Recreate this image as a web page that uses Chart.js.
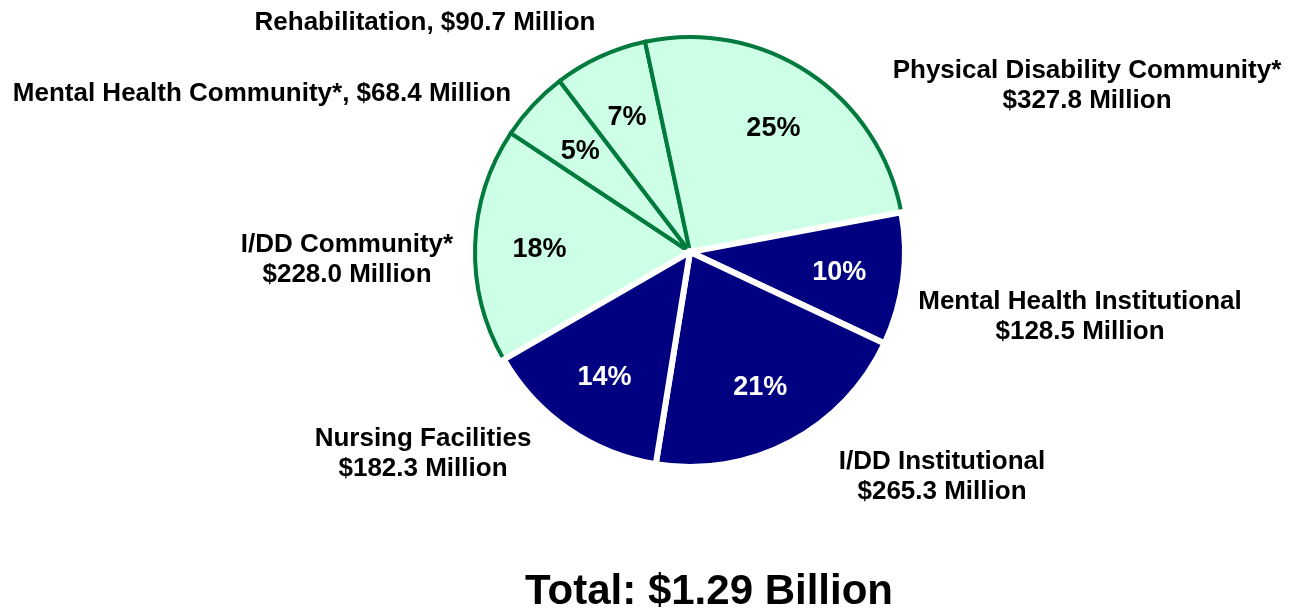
<!DOCTYPE html>
<html>
<head>
<meta charset="utf-8">
<script src="https://cdn.jsdelivr.net/npm/chart.js@4"></script>
<style>
  html, body { margin: 0; padding: 0; background: #fff; }
</style>
</head>
<body>
<canvas id="pie-chart" width="1292" height="612"></canvas>
<script>
// slices listed clockwise, starting at the I/DD Community slice (lower left)
const categories = ["I/DD Community*", "Mental Health Community*", "Rehabilitation",
  "Physical Disability Community*", "Mental Health Institutional", "I/DD Institutional", "Nursing Facilities"];
const amounts = [228.0, 68.4, 90.7, 327.8, 128.5, 265.3, 182.3]; // $ million
const isCommunity = [true, true, true, true, false, false, false];
const totalText = "Total: $1.29 Billion";

// where the outside labels go: centre x and first baseline, as offsets from the pie centre
const labelSpots = [
  {dx: -343, dy: 0, oneLine: false},
  {dx: -428, dy: -151, oneLine: true},
  {dx: -265, dy: -222, oneLine: true},
  {dx: 397, dy: -174, oneLine: false},
  {dx: 390, dy: 57, oneLine: false},
  {dx: 252, dy: 217, oneLine: false},
  {dx: -267, dy: 194, oneLine: false}
];

const GREEN_FILL = "#ccffe5";
const GREEN_LINE = "#007a3d";
const NAVY = "#000080";
const FONT = "'Liberation Sans', Arial, sans-serif";

const total = amounts.reduce((a, b) => a + b, 0);

const pieLabels = {
  id: "pieLabels",
  afterDraw(chart) {
    const ctx = chart.ctx;
    const arcs = chart.getDatasetMeta(0).data;
    ctx.save();
    ctx.textAlign = "center";
    let cx = 0, cy = 0;
    arcs.forEach((arc, i) => {
      const p = arc.getProps(["x", "y", "startAngle", "endAngle", "outerRadius"], true);
      cx = p.x; cy = p.y;
      const mid = (p.startAngle + p.endAngle) / 2;
      const r = p.outerRadius * 0.7;
      ctx.textBaseline = "middle";
      ctx.font = "bold 27px " + FONT;
      ctx.fillStyle = isCommunity[i] ? "#000" : "#fff";
      ctx.fillText(Math.round(amounts[i] / total * 100) + "%", p.x + Math.cos(mid) * r, p.y + Math.sin(mid) * r + 2);

      const spot = labelSpots[i];
      const money = "$" + amounts[i].toFixed(1) + " Million";
      ctx.textBaseline = "alphabetic";
      ctx.font = "bold 26px " + FONT;
      ctx.fillStyle = "#000";
      if (spot.oneLine) {
        ctx.fillText(categories[i] + ", " + money, p.x + spot.dx, p.y + spot.dy);
      } else {
        ctx.fillText(categories[i], p.x + spot.dx, p.y + spot.dy);
        ctx.fillText(money, p.x + spot.dx, p.y + spot.dy + 30);
      }
    });
    ctx.textBaseline = "alphabetic";
    ctx.font = "bold 42px " + FONT;
    ctx.fillStyle = "#000";
    ctx.fillText(totalText, cx + 19, cy + 352);
    ctx.restore();
  }
};

new Chart(document.getElementById("pie-chart"), {
  type: "pie",
  data: {
    labels: categories,
    datasets: [{
      data: amounts,
      backgroundColor: isCommunity.map(c => c ? GREEN_FILL : NAVY),
      borderColor: isCommunity.map(c => c ? GREEN_LINE : "#ffffff"),
      borderWidth: isCommunity.map(c => c ? 4 : 6),
      borderJoinStyle: "miter"
    }]
  },
  options: {
    responsive: false,
    devicePixelRatio: 1,
    animation: false,
    events: [],
    rotation: -120,
    layout: { padding: { top: 34, bottom: 142, left: 472, right: 384 } },
    plugins: {
      legend: { display: false },
      tooltip: { enabled: false },
      title: { display: false }
    }
  },
  plugins: [pieLabels]
});
</script>
</body>
</html>
